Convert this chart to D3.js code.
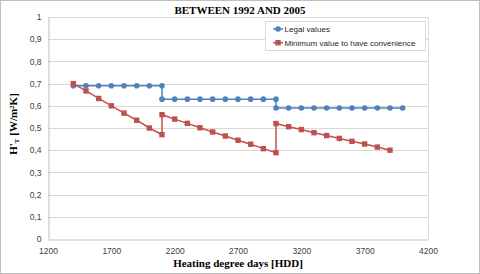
<!DOCTYPE html>
<html>
<head>
<meta charset="utf-8">
<script src="https://cdn.jsdelivr.net/npm/d3@7"></script>
<style>
  body { margin: 0; background: #fff; }
  text { font-family: "Liberation Sans", Arial, sans-serif; }
  .serif { font-family: "Liberation Serif", "Times New Roman", serif; font-weight: bold; }
</style>
</head>
<body>
<div id="vis"></div>
<script>
// data
var legalX = [1400,1500,1600,1700,1800,1900,2000,2100,2100,2200,2300,2400,2500,2600,2700,2800,2900,3000,3000,3100,3200,3300,3400,3500,3600,3700,3800,3900,4000];
var legalY = [0.69,0.69,0.69,0.69,0.69,0.69,0.69,0.69,0.63,0.63,0.63,0.63,0.63,0.63,0.63,0.63,0.63,0.63,0.59,0.59,0.59,0.59,0.59,0.59,0.59,0.59,0.59,0.59,0.59];
var minX = [1400,1500,1600,1700,1800,1900,2000,2100,2100,2200,2300,2400,2500,2600,2700,2800,2900,3000,3000,3100,3200,3300,3400,3500,3600,3700,3800,3900];
var minY = [0.70,0.667,0.633,0.60,0.567,0.535,0.50,0.47,0.56,0.54,0.521,0.501,0.482,0.464,0.445,0.427,0.407,0.389,0.52,0.506,0.493,0.479,0.466,0.453,0.44,0.428,0.414,0.40];
var xTicks = [1200,1700,2200,2700,3200,3700,4200];
var yTicks = [0,0.1,0.2,0.3,0.4,0.5,0.6,0.7,0.8,0.9,1];
var seriesNames = ["Legal values", "Minimum value to have convenience"];
var colors = ["#4F81BD", "#C0504D"];

var W = 480, H = 274;
var pLeft = 48, pRight = 428, pTop = 17, pBottom = 239;

var svg = d3.select("#vis").append("svg")
    .attr("width", W)
    .attr("height", H);

// outer frame
svg.append("rect")
    .attr("x", 0.5).attr("y", 0.5)
    .attr("width", W - 1).attr("height", H - 1)
    .attr("fill", "white")
    .attr("stroke", "#BFBFBF");

var xs = d3.scaleLinear().domain([1200, 4200]).range([pLeft, pRight]);
var ys = d3.scaleLinear().domain([0, 1]).range([pBottom, pTop]);

// gridlines
svg.append("g")
    .selectAll("line")
    .data(yTicks.slice(1))
    .enter().append("line")
    .attr("x1", pLeft).attr("x2", pRight)
    .attr("y1", function(d) { return Math.round(ys(d)) + 0.5; })
    .attr("y2", function(d) { return Math.round(ys(d)) + 0.5; })
    .attr("stroke", "#D9D9D9");

// plot area right border
svg.append("line")
    .attr("x1", pRight + 0.5).attr("x2", pRight + 0.5)
    .attr("y1", pTop).attr("y2", pBottom)
    .attr("stroke", "#D9D9D9");

var fmt = function(d) { return d3.format(".1~f")(d).replace(".", ","); };

var yAxis = svg.append("g")
    .attr("transform", "translate(" + (pLeft + 0.5) + ",0)")
    .call(d3.axisLeft(ys).tickValues(yTicks).tickSize(0).tickPadding(7).tickFormat(fmt));
var xAxis = svg.append("g")
    .attr("transform", "translate(0," + (pBottom + 0.5) + ")")
    .call(d3.axisBottom(xs).tickValues(xTicks).tickSize(0).tickPadding(8).tickFormat(d3.format("d")));

[yAxis, xAxis].forEach(function(a) {
    a.select(".domain").attr("stroke", "#BFBFBF");
    a.selectAll("text")
        .style("font-family", "'Liberation Sans', Arial, sans-serif")
        .style("font-size", "8.5px")
        .attr("fill", "#404040");
});

var line = d3.line()
    .x(function(d) { return xs(d[0]); })
    .y(function(d) { return ys(d[1]); });

var legal = d3.zip(legalX, legalY);
var mins = d3.zip(minX, minY);

svg.append("path").datum(legal)
    .attr("d", line).attr("fill", "none")
    .attr("stroke", colors[0]).attr("stroke-width", 1.5);
svg.append("path").datum(mins)
    .attr("d", line).attr("fill", "none")
    .attr("stroke", colors[1]).attr("stroke-width", 1.5);

svg.append("g").selectAll("circle")
    .data(legal)
    .enter().append("circle")
    .attr("cx", function(d) { return xs(d[0]); })
    .attr("cy", function(d) { return ys(d[1]); })
    .attr("r", 2.8)
    .attr("fill", colors[0]);

svg.append("g").selectAll("rect")
    .data(mins)
    .enter().append("rect")
    .attr("x", function(d) { return xs(d[0]) - 2.7; })
    .attr("y", function(d) { return ys(d[1]) - 2.7; })
    .attr("width", 5.4).attr("height", 5.4)
    .attr("fill", colors[1]);

// title
svg.append("text")
    .attr("class", "serif")
    .attr("x", 240).attr("y", 14)
    .attr("text-anchor", "middle")
    .style("font-size", "11px")
    .text("BETWEEN 1992 AND 2005");

// axis titles
svg.append("text")
    .attr("class", "serif")
    .attr("x", 238).attr("y", 267)
    .attr("text-anchor", "middle")
    .style("font-size", "11px")
    .text("Heating degree days [HDD]");

var yt = svg.append("text")
    .attr("class", "serif")
    .attr("text-anchor", "middle")
    .attr("transform", "translate(17,124)rotate(-90)")
    .style("font-size", "11px");
yt.append("tspan").text("H'");
yt.append("tspan").attr("dy", 2).style("font-size", "7px").text("T");
yt.append("tspan").attr("dy", -2).text(" [W/m");
yt.append("tspan").attr("dy", -3).style("font-size", "7px").text("2");
yt.append("tspan").attr("dy", 3).text("K]");

// legend
var lg = svg.append("g");
lg.append("rect")
    .attr("x", 265.5).attr("y", 21.5)
    .attr("width", 160).attr("height", 29)
    .attr("fill", "white").attr("stroke", "#D9D9D9");

var items = lg.selectAll("g.item")
    .data(seriesNames)
    .enter().append("g")
    .attr("class", "item")
    .attr("transform", function(d, i) { return "translate(273," + (29 + i * 13.7) + ")"; });

items.append("line")
    .attr("x1", 0).attr("x2", 10)
    .attr("stroke", function(d, i) { return colors[i]; })
    .attr("stroke-width", 1.5);
items.each(function(d, i) {
    var g = d3.select(this);
    if (i === 0) {
        g.append("circle").attr("cx", 5).attr("cy", 0).attr("r", 2.8).attr("fill", colors[0]);
    } else {
        g.append("rect").attr("x", 2.3).attr("y", -2.7).attr("width", 5.4).attr("height", 5.4).attr("fill", colors[1]);
    }
});
items.append("text")
    .attr("x", 11.5).attr("y", 3)
    .style("font-size", "8.1px")
    .attr("fill", "#262626")
    .text(function(d) { return d; });
</script>
</body>
</html>
